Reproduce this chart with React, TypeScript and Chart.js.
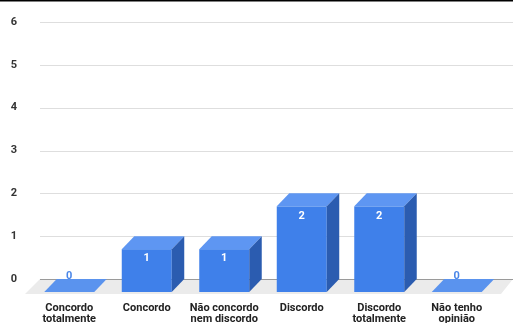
import React, { useEffect, useRef } from "react";
import { Chart, registerables } from "chart.js";

Chart.register(...registerables);

const categories: string[][] = [
  ["Concordo", "totalmente"],
  ["Concordo"],
  ["Não concordo", "nem discordo"],
  ["Discordo"],
  ["Discordo", "totalmente"],
  ["Não tenho", "opinião"],
];
const values: number[] = [0, 1, 1, 2, 2, 0];
const yTicks: number[] = [0, 1, 2, 3, 4, 5, 6];

const DX = 12.5;
const DY = 13;
const FONT = "Roboto, 'Noto Sans', sans-serif";

const bars3d = {
  id: "bars3d",
  beforeDatasetsDraw(chart: any) {
    const ctx = chart.ctx;
    const y = chart.scales.y;
    const W = chart.width;
    const zero = y.getPixelForValue(0);
    ctx.save();
    ctx.fillStyle = "#000";
    ctx.fillRect(0, 0, W, 1.5);
    ctx.fillStyle = "#ebebeb";
    ctx.beginPath();
    ctx.moveTo(40, zero);
    ctx.lineTo(W, zero);
    ctx.lineTo(W - 12, zero + 15);
    ctx.lineTo(25, zero + 15);
    ctx.closePath();
    ctx.fill();
    for (const t of yTicks) {
      const py = Math.round(y.getPixelForValue(t)) + 0.5;
      ctx.strokeStyle = t === 0 ? "#9a9a9a" : "#dedede";
      ctx.lineWidth = t === 0 ? 1.2 : 1;
      ctx.beginPath();
      ctx.moveTo(40, py);
      ctx.lineTo(W, py);
      ctx.stroke();
    }
    ctx.restore();
  },
  afterDatasetsDraw(chart: any) {
    const ctx = chart.ctx;
    const meta = chart.getDatasetMeta(0);
    ctx.save();
    meta.data.forEach((bar: any, i: number) => {
      const v = values[i];
      const w = bar.width;
      const cx = bar.x - DX;
      const fl = cx - w / 2;
      const fr = cx + w / 2;
      const ft = bar.y + DY;
      const fb = bar.base + DY;
      if (v === 0) {
        ctx.fillStyle = "#5a93ee";
        ctx.beginPath();
        ctx.moveTo(fl, fb);
        ctx.lineTo(fr, fb);
        ctx.lineTo(fr + DX, fb - DY);
        ctx.lineTo(fl + DX, fb - DY);
        ctx.closePath();
        ctx.fill();
        ctx.fillStyle = "#4a86e8";
        ctx.font = `bold 11px ${FONT}`;
        ctx.textAlign = "center";
        ctx.textBaseline = "middle";
        ctx.fillText(String(v), cx, bar.base - 3);
        return;
      }
      ctx.fillStyle = "#3f80ea";
      ctx.fillRect(fl, ft, w, fb - ft);
      ctx.fillStyle = "#5e96f2";
      ctx.beginPath();
      ctx.moveTo(fl, ft);
      ctx.lineTo(fr, ft);
      ctx.lineTo(fr + DX, ft - DY);
      ctx.lineTo(fl + DX, ft - DY);
      ctx.closePath();
      ctx.fill();
      ctx.fillStyle = "#2b5cb0";
      ctx.beginPath();
      ctx.moveTo(fr, ft);
      ctx.lineTo(fr + DX, ft - DY);
      ctx.lineTo(fr + DX, fb - DY);
      ctx.lineTo(fr, fb);
      ctx.closePath();
      ctx.fill();
      ctx.fillStyle = "#ffffff";
      ctx.font = `bold 11px ${FONT}`;
      ctx.textAlign = "center";
      ctx.textBaseline = "middle";
      ctx.fillText(String(v), cx, ft + 9.5);
    });
    ctx.restore();
  },
};

export default function App() {
  const ref = useRef<HTMLCanvasElement>(null);
  useEffect(() => {
    if (!ref.current) return;
    const chart = new Chart(ref.current, {
      type: "bar",
      data: {
        labels: categories,
        datasets: [
          {
            data: values,
            backgroundColor: "rgba(0,0,0,0)",
            borderWidth: 0,
            categoryPercentage: 1,
            barPercentage: 0.645,
          },
        ],
      },
      options: {
        animation: false,
        responsive: false,
        devicePixelRatio: 1,
        layout: { padding: { top: 22, right: 5, left: 0, bottom: 0 } },
        plugins: {
          legend: { display: false },
          tooltip: { enabled: false },
        },
        scales: {
          x: {
            grid: { display: false, drawTicks: false },
            border: { display: false },
            ticks: {
              autoSkip: false,
              maxRotation: 0,
              minRotation: 0,
              labelOffset: -DX,
              padding: 24,
              color: "#222",
              font: { family: FONT, size: 11, weight: "bold", lineHeight: 1 },
            },
            afterFit: (s: any) => {
              s.height = 44;
              s.paddingLeft = 0;
              s.paddingRight = 0;
            },
          },
          y: {
            min: 0,
            max: 6,
            grid: { display: false, drawTicks: false },
            border: { display: false },
            ticks: {
              stepSize: 1,
              padding: 26,
              color: "#333",
              font: { family: FONT, size: 11, weight: "bold" },
            },
            afterFit: (s: any) => {
              s.width = 43;
              s.paddingTop = 0;
              s.paddingBottom = 0;
            },
          },
        },
      },
      plugins: [bars3d],
    });
    return () => chart.destroy();
  }, []);
  return (
    <div style={{ position: "absolute", left: 0, top: 0, width: 513, height: 323, background: "#fff" }}>
      <canvas ref={ref} width={513} height={323} style={{ display: "block" }} />
    </div>
  );
}
